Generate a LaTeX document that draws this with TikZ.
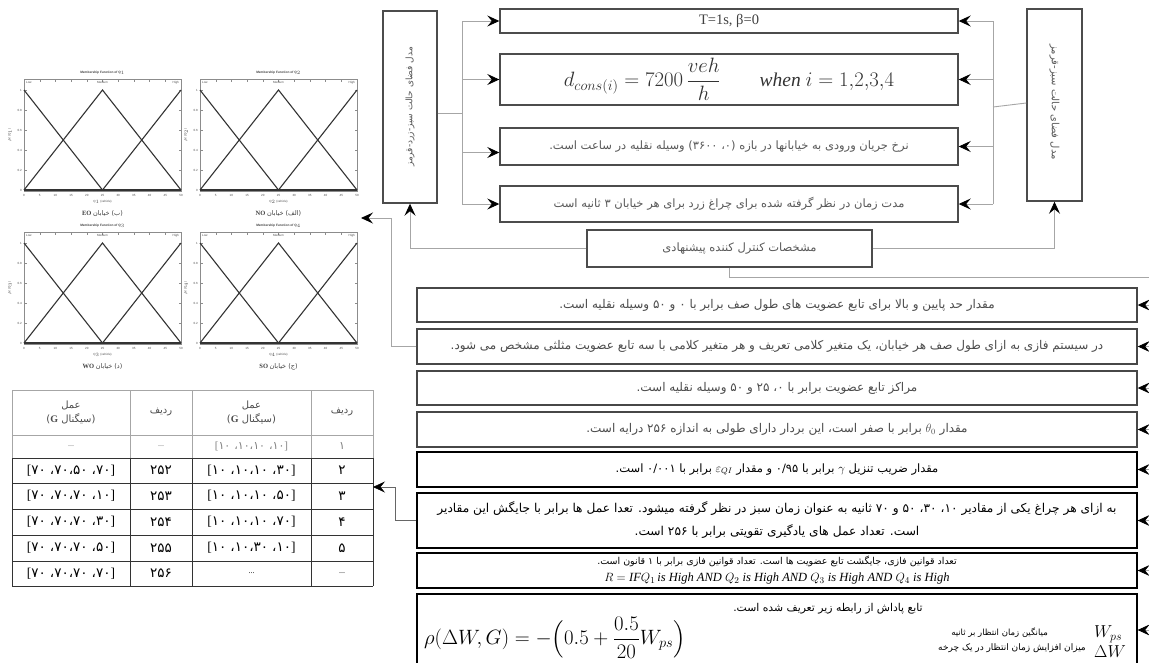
\documentclass[tikz,border=0pt]{standalone}
\usepackage{amsmath}
\usepackage{fontspec}
\setmainfont{Liberation Serif}
\setsansfont{Liberation Sans}
\newfontfamily\fa[Script=Arabic]{DejaVu Sans}
\TeXXeTstate=1
\usetikzlibrary{arrows.meta}
\newcommand\fatx[1]{{\fa\beginR #1\endR}}
\newcommand\gv[4]{{\rmfamily[}\mbox{\fa #1}\hspace{4pt}\mbox{\fa ،}\mbox{\fa #2}\mbox{\fa ،}\mbox{\fa #3}\hspace{4pt}\mbox{\fa ،}\mbox{\fa #4}{\rmfamily]}}
\tikzset{
  tbox/.style={draw=black!70, line width=1.4pt, fill=white, inner sep=0pt},
  lbox/.style={draw=black!72, line width=1.4pt, fill=white, inner sep=0pt},
  dbox/.style={draw=black, line width=1.2pt, fill=white, inner sep=0pt},
  cn/.style={draw=black!35, line width=0.9pt},
  cnd/.style={draw=black!60, line width=0.6pt},
  ar/.style={-{Stealth[length=12pt,width=11pt,inset=4.5pt,color=black]}},
  ttxt/.style={text=black!65, font=\fontsize{11.5}{13}\selectfont, inner sep=0pt},
  ltxt/.style={text=black!70, font=\fontsize{12}{14}\selectfont, inner sep=0pt},
  btxt/.style={text=black, font=\fontsize{11.5}{14}\selectfont, align=center, inner sep=0pt},
  tk/.style={font=\sffamily\fontsize{3}{3.5}\selectfont, inner sep=0.4pt, text=black!70},
  ttl/.style={font=\sffamily\bfseries\fontsize{3.2}{4}\selectfont, inner sep=0.4pt, text=black!75},
  chcap/.style={font=\fontsize{6.5}{7}\selectfont, inner sep=0.5pt, text=black!75},
  mf/.style={draw=black!80, line width=1.1pt},
  fr/.style={draw=black!45, line width=0.5pt},
  tcell/.style={font=\fontsize{13.5}{15}\selectfont, inner sep=0pt, align=center},
}
\newcommand\mfchart[5]{%
\begin{scope}[shift={(#1,#2)}]
 \draw[fr] (0,0) rectangle (157,112);
 \foreach \i [evaluate=\i as \v using int(\i*5)] in {0,...,10}{
   \draw[fr,line width=0.3pt] (\i*15.7,112) -- ++(0,-2.5) (\i*15.7,0) -- ++(0,2.5);
   \node[tk] at (\i*15.7,116) {\v};}
 \foreach \j/\l in {0/0,1/0.2,2/0.4,3/0.6,4/0.8,5/1}{
   \draw[fr,line width=0.3pt] (0,111-\j*20) -- ++(2.5,0) (157,111-\j*20) -- ++(-2.5,0);
   \node[tk,anchor=east] at (-1.5,111-\j*20) {\l};}
 \draw[mf] (0,11) -- (78.5,111);
 \draw[mf] (0,111) -- (78.5,11) -- (157,111);
 \draw[mf] (78.5,111) -- (157,11);
 \draw[mf] (0,111) -- (157,111);
 \node[ttl] (#5-t) at (78.5,-6) {Membership Function of Q$_{#3}$};
 \node[tk,anchor=north west] (#5-l) at (1.5,1.5) {Low};
 \node[tk,anchor=north] (#5-m) at (78.5,1.5) {Medium};
 \node[tk,anchor=north east] (#5-h) at (155.5,1.5) {High};
 \node[tk] (#5-x) at (78.5,123) {Q$_{#3}$ (vehicle)};
 \node[tk,rotate=90] (#5-y) at (-14,56) {$\mu$(Q$_{#3}$)};
 \node[chcap] (#5-c) at (78.5,135) {#4};
\end{scope}}
\begin{document}
\begin{tikzpicture}[x=1pt,y=-1pt]
\fill[white] (0,0) rectangle (1149,662);
\useasboundingbox (0,0) rectangle (1149,662);

% ---------- top section ----------
\node[tbox, minimum width=458pt, minimum height=24pt] (t1) at (729,21) {\fontsize{14.5}{16}\selectfont\color{black!75}T=1s, β=0};
\node[tbox, minimum width=458pt, minimum height=51pt] (t2) at (729,79.5) {\fontsize{19.5}{22}\selectfont\color{black!80}$d_{cons(i)} = 7200\,\dfrac{veh}{h}\qquad \mathit{when}\ i = 1{,}2{,}3{,}4$};
\node[tbox, ttxt, minimum width=458pt, minimum height=37pt] (t3) at (729,146.5) {\fatx{نرخ جریان ورودی به خیابانها در بازه (۰، ۳۶۰۰) وسیله نقلیه در ساعت است.}};
\node[tbox, ttxt, minimum width=458pt, minimum height=36pt] (t4) at (729,204) {\fatx{مدت زمان در نظر گرفته شده برای چراغ زرد برای هر خیابان ۳ ثانیه است}};
\node[tbox, minimum width=285pt, minimum height=37pt] (t5) at (729.5,248.5) {};
\node[ttxt] (t5tx) at ([xshift=10pt]t5.center) {\fatx{مشخصات کنترل کننده پیشنهادی}};

\node[tbox, minimum width=54pt, minimum height=192pt] (L) at (410,107) {};
\node[ttxt, font=\fontsize{9}{10}\selectfont, rotate=90] (Ltx) at (L.center) {\fatx{مدل فضای حالت سبز-زرد-قرمز}};
\node[tbox, minimum width=55pt, minimum height=192pt] (R) at (1054.5,105) {};
\node[ttxt, font=\fontsize{10}{12}\selectfont, rotate=-90] (Rtx) at ([yshift=3pt]R.center) {\fatx{مدل فضای حالت سبز-قرمز}};

\coordinate (lj) at (462,113);
\coordinate (rj) at (993,107);
\draw[cn] ([yshift=-6pt]L.east) -- (lj);
\draw[cn] (t1.west -| lj) -- (t4.west -| lj);
\foreach \n in {t1,t2,t4} \draw[cn,ar] (\n.west -| lj) -- (\n.west);
\draw[cn,ar] ([yshift=-6pt]t3.west -| lj) -- ([yshift=-6pt]t3.west);
\draw[cn] ([yshift=2pt]R.west) -- (rj);
\draw[cn] (t1.east -| rj) -- (t4.east -| rj);
\foreach \n in {t1,t2,t3,t4} \draw[cn,ar] (\n.east -| rj) -- (\n.east);
\draw[cn,ar] (t5.west) -| (L.south);
\draw[cn,ar] (t5.east) -| (R.south);
\coordinate (edge) at (1152,277);
\draw[cn] (t5.south) |- (edge);

% ---------- lower boxes ----------
\node[lbox, ltxt, minimum width=720pt, minimum height=34pt] (b1) at (777,305) {\fatx{مقدار حد پایین و بالا برای تابع عضویت های طول صف برابر با ۰ و ۵۰ وسیله نقلیه است.}};
\node[lbox, ltxt, minimum width=720pt, minimum height=35pt] (b2) at (777,346.5) {\fatx{در سیستم فازی به ازای طول صف هر خیابان، یک متغیر کلامی تعریف و هر متغیر کلامی با سه تابع عضویت مثلثی مشخص می شود.}};
\node[lbox, ltxt, minimum width=720pt, minimum height=34pt] (b3) at (777,388) {\fatx{مراکز تابع عضویت برابر با ۰، ۲۵ و ۵۰ وسیله نقلیه است.}};
\node[lbox, ltxt, minimum width=720pt, minimum height=35pt] (b4) at (777,429.5) {\fatx{مقدار $\theta_0$ برابر با صفر است، این بردار دارای طولی به اندازه ۲۵۶ درایه است.}};
\node[dbox, btxt, minimum width=720pt, minimum height=35pt] (b5) at (777,469.5) {\fatx{مقدار ضریب تنزیل $\gamma$ برابر با ۰/۹۵ و مقدار $\varepsilon_{QI}$ برابر با ۰/۰۰۱ است.}};
\node[dbox, btxt, font=\fontsize{12.2}{23}\selectfont, minimum width=720pt, minimum height=55pt] (b6) at (777,520.5) {\fatx{به ازای هر چراغ یکی از مقادیر ۱۰، ۳۰، ۵۰ و ۷۰ ثانیه به عنوان زمان سبز در نظر گرفته میشود. تعدا عمل ها برابر با جایگش این مقادیر}\\ \fatx{است. تعداد عمل های یادگیری تقویتی برابر با ۲۵۶ است.}};
\node[dbox, btxt, font=\fontsize{9.5}{17}\selectfont, minimum width=720pt, minimum height=35pt] (b7) at (777,570.5) {\fatx{تعداد قوانین فازی، جایگشت تابع عضویت ها است. تعداد قوانین فازی برابر با ۱ قانون است.}\\ \fontsize{12.5}{14}\selectfont $R = \mathit{IF}Q_1\,\mathit{is\ High\ AND}\ Q_2\ \mathit{is\ High\ AND}\ Q_3\ \mathit{is\ High\ AND}\ Q_4\ \mathit{is\ High}$};
\node[dbox, minimum width=720pt, minimum height=72pt] (b8) at (777,630) {};
\node[inner sep=0pt, font=\fontsize{20}{24}\selectfont] (rho) at (555,638) {$\rho(\Delta W, G) = -\Bigl(0.5 + \dfrac{0.5}{20}W_{ps}\Bigr)$};
\node[inner sep=0pt, font=\fontsize{10.8}{13}\selectfont] (rtitle) at (828,609) {\fatx{تابع پاداش از رابطه زیر تعریف شده است.}};
\node[inner sep=0pt, font=\fontsize{18}{20}\selectfont, anchor=west] (wps) at (1094,634) {$W_{ps}$};
\node[inner sep=0pt, font=\fontsize{18}{20}\selectfont, anchor=west] (dw) at (1094,652) {$\Delta W$};
\node[inner sep=0pt, font=\fontsize{8.5}{10}\selectfont, anchor=east] (wpsl) at (1048,633) {\fatx{میانگین زمان انتظار بر ثانیه}};
\node[inner sep=0pt, font=\fontsize{9}{10}\selectfont, anchor=east] (dwl) at (1086,648) {\fatx{میزان افزایش زمان انتظار در یک چرخه}};

\foreach \n in {b1,b2,b3,b4,b5,b6,b7,b8} \draw[cn,ar] (\n.east -| edge) -- (\n.east);

% ---------- charts ----------
\mfchart{24}{79}{1}{{\rmfamily\bfseries EO} \fatx{(ب) خیابان}}{ch1}
\mfchart{200}{79}{2}{{\rmfamily\bfseries NO} \fatx{(الف) خیابان}}{ch2}
\mfchart{24}{232}{3}{{\rmfamily\bfseries WO} \fatx{(د) خیابان}}{ch3}
\mfchart{200}{232}{4}{{\rmfamily\bfseries SO} \fatx{(ج) خیابان}}{ch4}
\coordinate (k1) at (391,218);
\coordinate (chart) at (361,218);
\draw[cn,ar] (b2.west) -| (k1) -- (chart);

% ---------- table ----------
\foreach \x in {12,130,192,311,373} \draw[black!35,line width=0.8pt] (\x,390) -- (\x,458);
\draw[black!35,line width=0.8pt] (12,390) -- (373,390) (12,435) -- (373,435);
\foreach \x in {12,130,192,311,373} \draw[black!80,line width=0.6pt] (\x,458) -- (\x,586);
\foreach \y in {458,483,509,535,561,586} \draw[black!80,line width=0.6pt] (12,\y) -- (373,\y);
\node[tcell,text=black!70,font=\fontsize{10}{14}\selectfont] (h1) at (71,412.5) {\fatx{عمل}\\\fatx{(سیگنال {\rmfamily\bfseries G})}};
\node[tcell,text=black!70,font=\fontsize{10}{14}\selectfont] (h2) at (161,412.5) {\fatx{ردیف}};
\node[tcell,text=black!70,font=\fontsize{10}{14}\selectfont] (h3) at (251.5,412.5) {\fatx{عمل}\\\fatx{(سیگنال {\rmfamily\bfseries G})}};
\node[tcell,text=black!70,font=\fontsize{10}{14}\selectfont] (h4) at (342,412.5) {\fatx{ردیف}};
\node[tcell,text=black!60,font=\fontsize{8}{10}\selectfont] (c11) at (71,446.5) {...};
\node[tcell,text=black!60,font=\fontsize{8}{10}\selectfont] (c12) at (161,446.5) {...};
\node[tcell,text=black!50,font=\fontsize{11}{12}\selectfont] (c13) at (251.5,446.5) {\gv{۱۰}{۱۰}{۱۰}{۱۰}};
\node[tcell,text=black!50,font=\fontsize{11}{12}\selectfont] (c14) at (342,446.5) {\fatx{۱}};
\node[tcell] (c21) at (71,470.5) {\gv{۷۰}{۷۰}{۵۰}{۷۰}};
\node[tcell] (c22) at (161,470.5) {\fatx{۲۵۲}};
\node[tcell] (c23) at (251.5,470.5) {\gv{۱۰}{۱۰}{۱۰}{۳۰}};
\node[tcell] (c24) at (342,470.5) {\fatx{۲}};
\node[tcell] (c31) at (71,496) {\gv{۷۰}{۷۰}{۷۰}{۱۰}};
\node[tcell] (c32) at (161,496) {\fatx{۲۵۳}};
\node[tcell] (c33) at (251.5,496) {\gv{۱۰}{۱۰}{۱۰}{۵۰}};
\node[tcell] (c34) at (342,496) {\fatx{۳}};
\node[tcell] (c41) at (71,522) {\gv{۷۰}{۷۰}{۷۰}{۳۰}};
\node[tcell] (c42) at (161,522) {\fatx{۲۵۴}};
\node[tcell] (c43) at (251.5,522) {\gv{۱۰}{۱۰}{۱۰}{۷۰}};
\node[tcell] (c44) at (342,522) {\fatx{۴}};
\node[tcell] (c51) at (71,548) {\gv{۷۰}{۷۰}{۷۰}{۵۰}};
\node[tcell] (c52) at (161,548) {\fatx{۲۵۵}};
\node[tcell] (c53) at (251.5,548) {\gv{۱۰}{۱۰}{۳۰}{۱۰}};
\node[tcell] (c54) at (342,548) {\fatx{۵}};
\node[tcell] (c61) at (71,573.5) {\gv{۷۰}{۷۰}{۷۰}{۷۰}};
\node[tcell] (c62) at (161,573.5) {\fatx{۲۵۶}};
\node[tcell,font=\fontsize{8}{10}\selectfont] (c63) at (251.5,573.5) {...};
\node[tcell,font=\fontsize{8}{10}\selectfont] (c64) at (342,573.5) {...};
\coordinate (k2) at (395,487);
\coordinate (tabR) at (373,487);
\draw[cnd,ar] (b6.west) -| (k2) -- (tabR);
\end{tikzpicture}
\end{document}
